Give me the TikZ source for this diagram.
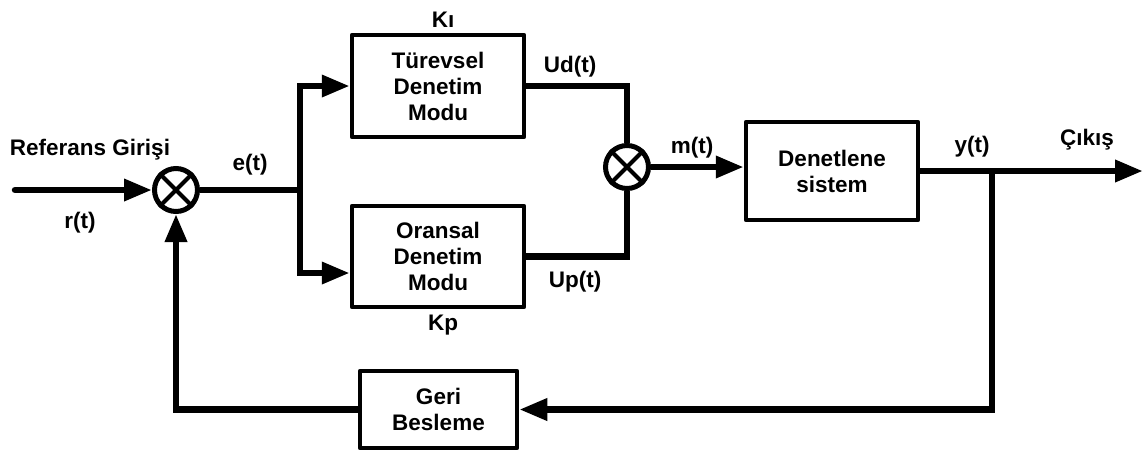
\documentclass[tikz,border=0pt]{standalone}
\usepackage{fontspec}
\setmainfont{Liberation Sans}
\usetikzlibrary{arrows.meta,calc}
\begin{document}
\begin{tikzpicture}[x=1pt,y=-1pt,
  every node/.style={font=\bfseries\fontsize{22.5}{26}\selectfont},
  blk/.style={draw,line width=4.5pt,align=center,inner sep=0pt,line join=round},
  sumj/.style={draw,circle,line width=5pt,minimum size=43pt,inner sep=0pt},
  wire/.style={line width=6.5pt},
  arr/.style={wire,-{Triangle[length=28pt,width=21pt]}},
  lbl/.style={inner sep=0pt}]
\useasboundingbox (0,0) rectangle (1147,451);
% nodes
\node[sumj] (s1) at (176,190) {};
\node[sumj] (s2) at (627,167) {};
\draw[line width=4pt] (s1.north west) -- (s1.south east) (s1.north east) -- (s1.south west);
\draw[line width=4pt] (s2.north west) -- (s2.south east) (s2.north east) -- (s2.south west);
\node[blk,minimum width=172pt,minimum height=102pt] (tur) at (438,86) {Türevsel\\Denetim\\Modu};
\node[blk,minimum width=172pt,minimum height=101pt] (oran) at (438,256.5) {Oransal\\Denetim\\Modu};
\node[blk,minimum width=172pt,minimum height=98pt] (den) at (832,171) {Denetlene\\sistem};
\node[blk,minimum width=157pt,minimum height=77pt] (geri) at (438.5,409.5) {Geri\\Besleme};
% coordinates
\coordinate (in) at (15,190);
\coordinate (b1) at (300,190);
\coordinate (b2) at (992,171);
\coordinate (out) at (1143,171);
% connectors
\draw[arr,line cap=round] (in) -- (s1.west);
\draw[wire] (s1.east) -- (b1);
\draw[arr] (b1) |- (tur.west);
\draw[arr] (b1) |- ([yshift=-16.5pt]oran.west);
\draw[wire] (tur.east) -| (s2.north);
\draw[wire] (oran.east) -| (s2.south);
\draw[arr] (s2.east) -- (s2.east -| den.west);
\draw[arr] (den.east) -- (out);
\draw[arr] (b2) |- (geri.east);
\draw[arr] (geri.west) -| (s1.south);
% labels
\node[lbl] at (90,150) {Referans Girişi};
\node[lbl] at (80,223) {r(t)};
\node[lbl] at (250,165) {e(t)};
\node[lbl] at (443,20) {Kı};
\node[lbl] at (570,67) {Ud(t)};
\node[lbl] at (575,282) {Up(t)};
\node[lbl] at (443,325) {Kp};
\node[lbl] at (692,148) {m(t)};
\node[lbl] at (972,147) {y(t)};
\node[lbl] at (1087,140) {Çıkış};
\end{tikzpicture}
\end{document}
